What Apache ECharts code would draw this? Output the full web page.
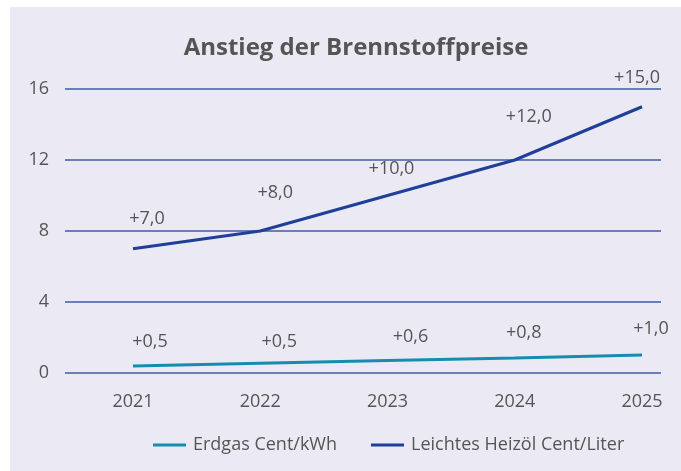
<!DOCTYPE html>
<html>
<head>
<meta charset="utf-8">
<script src="https://cdn.jsdelivr.net/npm/echarts@6/dist/echarts.min.js"></script>
<style>
  html, body { margin: 0; padding: 0; background: #ffffff; }
  #panel { position: absolute; left: 10px; top: 7px; width: 671px; height: 464px; background: #ebeaf4; }
  #chart { position: absolute; left: 0; top: 0; width: 681px; height: 471px; }
</style>
</head>
<body>
<div id="panel"></div>
<div id="chart"></div>
<script>
// data
const years = [2021, 2022, 2023, 2024, 2025];
const erdgas = [0.4, 0.55, 0.7, 0.85, 1.02];
const heizoel = [7.0, 8.0, 10.0, 12.0, 15.0];
const erdgasLabels = ['+0,5', '+0,5', '+0,6', '+0,8', '+1,0'];
const heizoelLabels = ['+7,0', '+8,0', '+10,0', '+12,0', '+15,0'];
const yTicks = [0, 4, 8, 12, 16];

// label placement (px offsets from the point)
const erdgasOffsets = [[17, -24], [19, -21], [23, -24], [9, -25], [9, -26]];
const heizoelOffsets = [[14, -30], [15, -38], [4, -27], [14, -43], [-5, -29]];

const textColor = '#555555';
const font = '"Open Sans", sans-serif';

function buildData(vals, labels, offsets) {
  return years.map((y, i) => ({
    value: [y, vals[i]],
    label: { formatter: labels[i], offset: offsets[i] }
  }));
}

const chart = echarts.init(document.getElementById('chart'));

const options = {
  backgroundColor: 'transparent',
  animation: false,
  textStyle: { fontFamily: font },
  title: {
    text: 'Anstieg der Brennstoffpreise',
    left: 351,
    textAlign: 'center',
    top: 31,
    textStyle: { fontFamily: font, fontSize: 24, fontWeight: 'bold', color: textColor }
  },
  legend: {
    left: 148,
    top: 431,
    itemWidth: 33,
    itemHeight: 3,
    itemGap: 34,
    icon: 'rect',
    textStyle: { fontFamily: font, fontSize: 18, color: textColor, padding: [0, 0, 0, 2] },
    data: ['Erdgas Cent/kWh', 'Leichtes Heizöl Cent/Liter']
  },
  grid: { left: 65, right: 20, top: 89, bottom: 98 },
  xAxis: {
    type: 'value',
    min: 2020.466,
    max: 2025.149,
    axisLine: { show: false },
    axisTick: { show: false },
    splitLine: { show: false },
    axisLabel: {
      customValues: years,
      formatter: v => String(v),
      margin: 20,
      fontSize: 18,
      color: textColor,
      fontFamily: font
    }
  },
  yAxis: {
    type: 'value',
    min: 0,
    max: 16,
    interval: 4,
    axisLine: { show: false },
    axisTick: { show: false },
    splitLine: { lineStyle: { color: '#3f5aa6', width: 1.5 } },
    axisLabel: {
      margin: 16,
      fontSize: 18,
      color: textColor,
      fontFamily: font,
      formatter: v => yTicks.includes(v) ? String(v) : ''
    }
  },
  series: [
    {
      name: 'Erdgas Cent/kWh',
      type: 'line',
      color: '#168cb0',
      symbol: 'circle',
      symbolSize: 0.1,
      lineStyle: { width: 3, color: '#168cb0' },
      label: { show: true, position: 'inside', fontSize: 18, color: textColor, fontFamily: font },
      data: buildData(erdgas, erdgasLabels, erdgasOffsets)
    },
    {
      name: 'Leichtes Heizöl Cent/Liter',
      type: 'line',
      color: '#1f3f99',
      symbol: 'circle',
      symbolSize: 0.1,
      lineStyle: { width: 3, color: '#1f3f99' },
      label: { show: true, position: 'inside', fontSize: 18, color: textColor, fontFamily: font },
      data: buildData(heizoel, heizoelLabels, heizoelOffsets)
    }
  ]
};

chart.setOption(options);
</script>
</body>
</html>
